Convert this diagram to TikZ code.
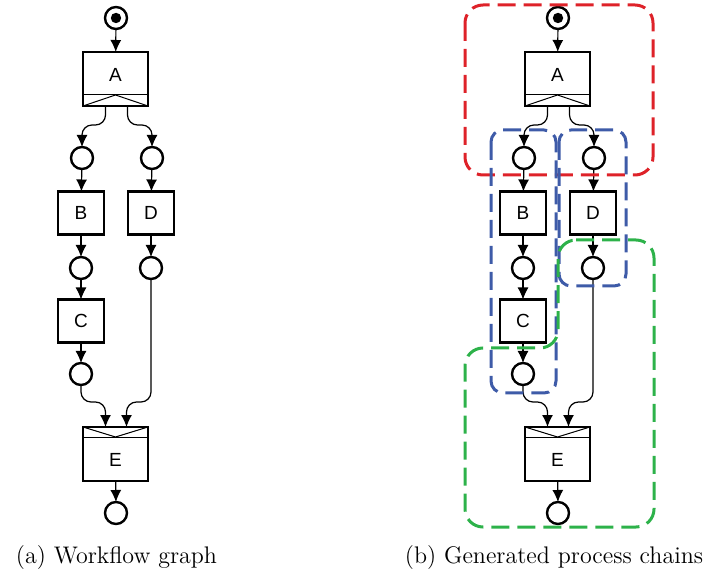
\documentclass[tikz,border=0pt]{standalone}
\usepackage{fontspec}
\newfontfamily\nodefont{Liberation Sans}
\usetikzlibrary{arrows.meta,calc}
\definecolor{chainred}{HTML}{DE2229}
\definecolor{chainblue}{HTML}{3E5BA8}
\definecolor{chaingreen}{HTML}{2DB24A}

\begin{document}
\begin{tikzpicture}[x=0.5pt,y=-0.5pt,
  task/.style={draw,line width=1.4pt,minimum width=23pt,minimum height=21.5pt,inner sep=0pt,outer sep=0pt,font=\nodefont\fontsize{9.5}{10}\selectfont},
  splitbox/.style={task,minimum width=32.5pt,minimum height=27pt,text depth=4.5pt},
  joinbox/.style={task,minimum width=32.5pt,minimum height=27pt,text height=12.5pt},
  place/.style={circle,draw,line width=1.2pt,minimum size=11pt,inner sep=0pt,outer sep=0pt},
  startplace/.style={place,path picture={\fill (path picture bounding box.center) circle (2.6pt);}},
  flow/.style={-{Latex[length=6pt,width=5.5pt]},line width=0.6pt,rounded corners=5pt},
  band/.style={line width=0.5pt},
  chainbox/.style={dash pattern=on 9pt off 4pt,line width=1.5pt,rounded corners=9pt},
  caption/.style={font=\fontsize{12}{14}\selectfont}]
  \useasboundingbox (0,0) rectangle (716,576);

  % both graphs, (b) is (a) moved right
  \foreach \dx/\g in {0/a,442/b}{
    \node[startplace] (S\g) at (116+\dx,18) {};
    \node[splitbox] (A\g) at (115.5+\dx,79) {A};
    \node[place] (p1\g) at (82+\dx,158) {};
    \node[place] (p2\g) at (152+\dx,158) {};
    \node[task] (B\g) at (81+\dx,213) {B};
    \node[task] (D\g) at (151+\dx,213) {D};
    \node[place] (p3\g) at (81+\dx,268) {};
    \node[place] (p4\g) at (151+\dx,268) {};
    \node[task] (C\g) at (81+\dx,321) {C};
    \node[place] (p5\g) at (81+\dx,374) {};
    \node[joinbox] (E\g) at (115.5+\dx,454) {E};
    \node[place] (p6\g) at (116+\dx,513) {};

    % split and join bands
    \draw[band] ([yshift=5.5pt]A\g.south west) -- ([yshift=5.5pt]A\g.south east);
    \draw[band] (A\g.south west) -- ([yshift=5.5pt]A\g.south) -- (A\g.south east);
    \draw[band] ([yshift=-5pt]E\g.north west) -- ([yshift=-5pt]E\g.north east);
    \draw[band] (E\g.north west) -- ([yshift=-5pt]E\g.north) -- (E\g.north east);

    \draw[flow] (S\g) -- (A\g);
    \draw[flow] ([xshift=-5pt]A\g.south) |- ([yshift=11pt]p1\g.north) -- (p1\g);
    \draw[flow] ([xshift=6pt]A\g.south) |- ([yshift=11pt]p2\g.north) -- (p2\g);
    \draw[flow] (p1\g) -- (B\g);
    \draw[flow] (B\g) -- (p3\g);
    \draw[flow] (p3\g) -- (C\g);
    \draw[flow] (C\g) -- (p5\g);
    \draw[flow] (p2\g) -- (D\g);
    \draw[flow] (D\g) -- (p4\g);
    \draw[flow] (p5\g.south) |- ([xshift=-5pt,yshift=12.5pt]E\g.north) -- ([xshift=-5pt]E\g.north);
    \draw[flow] (p4\g.south) |- ([xshift=5.5pt,yshift=12.5pt]E\g.north) -- ([xshift=5.5pt]E\g.north);
    \draw[flow] (E\g) -- (p6\g);
  }

  % generated process chains
  \draw[chainbox,chainred] (465,5) rectangle (653,175);
  \draw[chainbox,chainblue,rounded corners=6pt] (491,130) rectangle (556,393);
  \draw[chainbox,chainblue,rounded corners=6pt] (559,130) rectangle (626,286);
  \draw[chainbox,chaingreen] (558,240) -- (654,240) -- (654,527) -- (465,527) -- (465,348) -- (558,348) -- cycle;

  \node[caption] (capa) at (116.5,558) {(a) Workflow graph};
  \node[caption] (capb) at (554,558) {(b) Generated process chains};
\end{tikzpicture}
\end{document}
